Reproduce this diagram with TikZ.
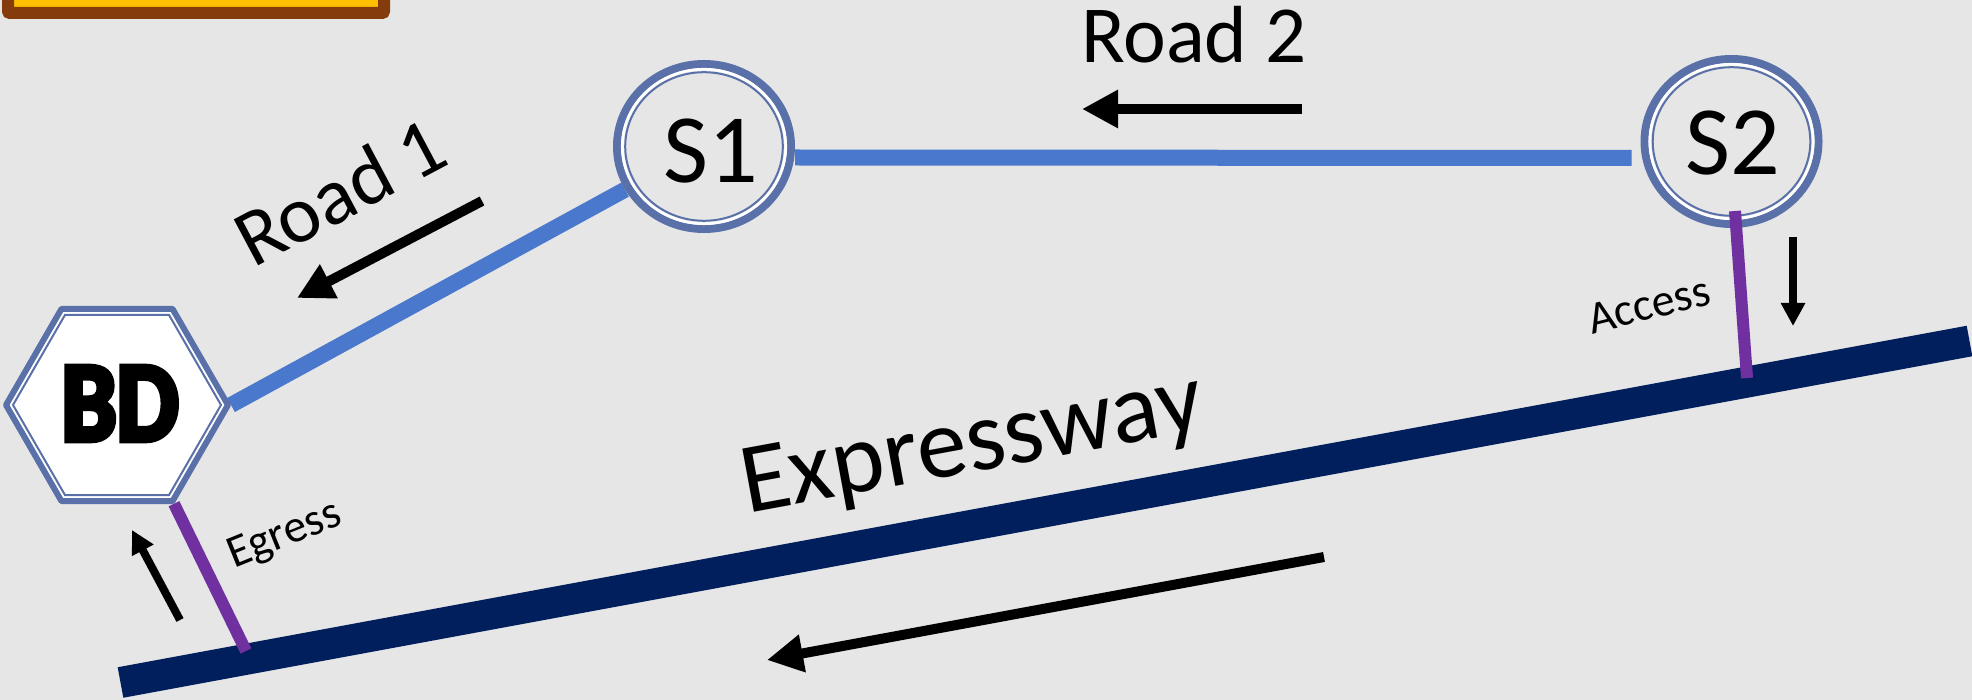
\documentclass[tikz,border=0pt]{standalone}
\usepackage{fontspec}
\setmainfont{Carlito}
\usetikzlibrary{arrows.meta,calc,shapes.geometric}
\pgfdeclarelayer{back}
\pgfsetlayers{back,main}
\definecolor{bg}{HTML}{E6E6E6}
\definecolor{ringblue}{HTML}{5A70A8}
\definecolor{roadblue}{HTML}{4A78CC}
\definecolor{expnavy}{HTML}{001F5C}
\definecolor{linkpurple}{HTML}{7030A0}
\definecolor{boxbrown}{HTML}{843C0C}
\definecolor{boxgold}{HTML}{FFC000}
\font\bdfnt="Carlito/B:embolden=5;extend=0.86" at 114pt
\begin{document}
\begin{tikzpicture}[x=1pt,y=-1pt,
  road/.style={roadblue, line width=16pt},
  link/.style={linkpurple, line width=12pt},
  ringthick/.style={ringblue, line width=8pt},
  ringgap/.style={white, line width=2.7pt},
  ringthin/.style={ringblue, line width=2pt},
  station/.style={ellipse, minimum width=182pt, minimum height=173pt, inner sep=0pt, outer sep=0pt},
  bigarrow/.style={line width=10pt, -{Triangle[length=36pt,width=36pt]}},
  smallarrow/.style={line width=8pt, -{Triangle[length=23pt,width=23pt]}},
  lbl/.style={inner sep=0pt, outer sep=0pt, anchor=base west},
]
\useasboundingbox (0,0) rectangle (1972,700);
\clip (0,0) rectangle (1972,700);

% nodes
\node[regular polygon, regular polygon sides=6, minimum size=228pt, inner sep=0pt, outer sep=0pt, font=\bdfnt] (BD) at (117,405) {\raisebox{3pt}{\hspace{6pt}BD}};
\node[station] (S1) at (704,146.5) {};
\node[station] (S2) at (1731.5,141.5) {};
\node[font=\fontsize{98}{98}\selectfont] (S1t) at (711,151) {S1};
\node[font=\fontsize{98}{98}\selectfont] (S2t) at (1733,143) {S2};

\coordinate (EW) at (120.5,682.5);
\coordinate (EE) at (1969.5,341);
\coordinate (egressfoot) at (246,651);
\coordinate (accessfoot) at (1747,378);

\begin{pgfonlayer}{back}
  \fill[bg] (0,0) rectangle (1972,700);
  % legend box in the corner
  \draw[boxbrown, fill=boxgold, line width=12pt, rounded corners=2pt] (8,-60) rectangle (384,13);
  % expressway
  \draw[expnavy, line width=31pt] (EW) -- (EE);
  % roads
  \draw[road] (BD.east) -- (S1);
  \draw[road] ([yshift=-11pt]S1.east) -- ([yshift=-16.5pt,xshift=-9pt]S2.west);
  % hexagon rings
  \draw[ringblue, line width=6pt, fill=white, line join=round]
    ($(BD.center)+(0:111)$) \foreach \a in {60,120,...,300}{ -- ($(BD.center)+(\a:111)$)} -- cycle;
  \draw[ringthin]
    ($(BD.center)+(0:104)$) \foreach \a in {60,120,...,300}{ -- ($(BD.center)+(\a:104)$)} -- cycle;
  % station rings
  \foreach \s in {S1,S2}{
    \draw[ringthick] (\s.center) ellipse [x radius=87, y radius=82.5];
    \draw[ringgap] (\s.center) ellipse [x radius=81.7, y radius=77.2];
    \draw[ringthin] (\s.center) ellipse [x radius=78.8, y radius=74.3];
  }
  % access / egress links
  \draw[link] (BD.-60) -- (egressfoot);
  \draw[link] ([shift={(3.5,-17)}]S2.south) -- (accessfoot);
\end{pgfonlayer}

% labels
\node[lbl, font=\fontsize{81}{81}\selectfont] (r2lbl) at (1081,63) {Road 2};
\node[lbl, font=\fontsize{81}{81}\selectfont, rotate=28] (r1lbl) at (253,269) {Road 1};
\node[lbl, font=\fontsize{100}{100}\selectfont, rotate=10.45] (exlbl) at (747,513.5) {Expressway};
\node[lbl, font=\fontsize{46}{46}\selectfont, rotate=14] (aclbl) at (1592,334) {Access};
\node[lbl, font=\fontsize{46}{46}\selectfont, rotate=22] (eglbl) at (234,568) {Egress};

% direction arrows
\coordinate (r2a) at (1302,109); \coordinate (r2b) at (1082,109);
\coordinate (r1a) at (482,201);  \coordinate (r1b) at (297,298);
\coordinate (exa) at (1324,557); \coordinate (exb) at (767,660);
\coordinate (aca) at (1793,237); \coordinate (acb) at (1793,326);
\coordinate (ega) at (180,620);  \coordinate (egb) at (132,530);
\draw[bigarrow] (r2a) -- (r2b);
\draw[bigarrow] (r1a) -- (r1b);
\draw[bigarrow] (exa) -- (exb);
\draw[smallarrow] (aca) -- (acb);
\draw[smallarrow] (ega) -- (egb);
\end{tikzpicture}
\end{document}
